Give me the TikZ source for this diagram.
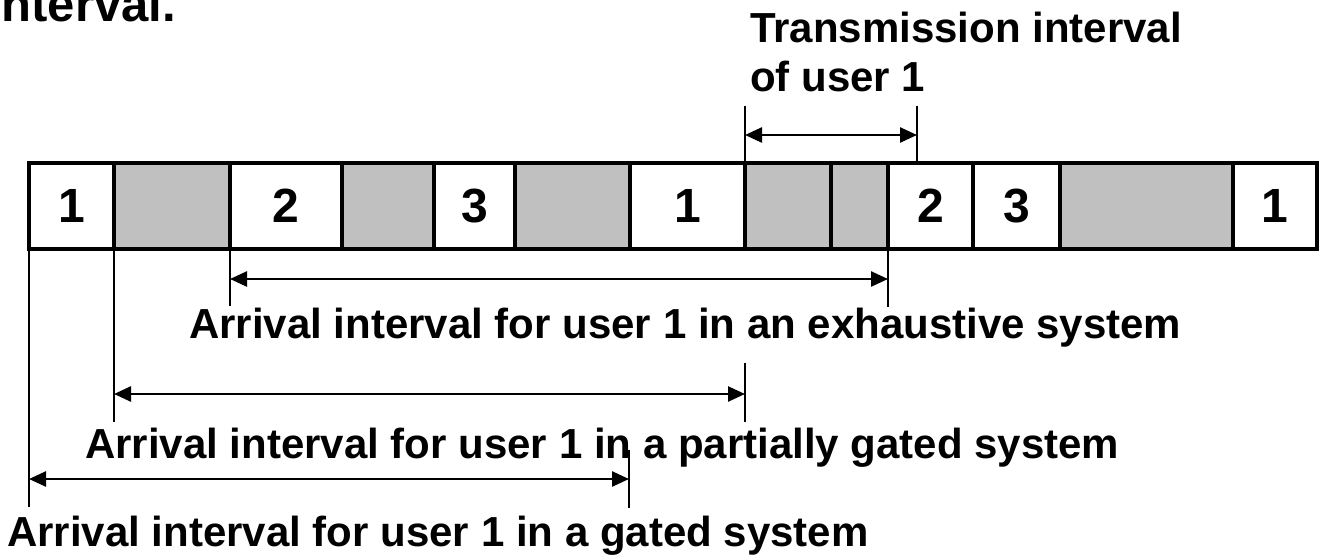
\documentclass[tikz,border=0pt]{standalone}
\usepackage{fontspec}
\setmainfont{Liberation Sans}
\usetikzlibrary{arrows.meta}
\definecolor{slotgray}{RGB}{192,192,192}
\begin{document}
\begin{tikzpicture}[x=1pt,y=-1pt,
  slot/.style={draw, line width=4pt, minimum height=86pt, inner sep=0pt,
    outer sep=0pt, font=\fontsize{48}{48}\selectfont\bfseries},
  idle/.style={slot, fill=slotgray},
  busy/.style={slot, fill=white},
  tick/.style={line width=2.5pt},
  span/.style={line width=2.5pt,
    {Triangle[length=17pt,width=15pt]}-{Triangle[length=17pt,width=15pt]}},
  lbl/.style={font=\fontsize{42}{49}\selectfont\bfseries, inner sep=0pt,
    anchor=base west}]
\useasboundingbox (0,0) rectangle (1320,556);

% heading, cut at the top edge
\node[font=\fontsize{49}{49}\selectfont\bfseries, inner sep=0pt,
  anchor=base east] (head) at (176,22) {nterval.};

% the cycle of slots: user slots and switch-over (grey) slots
\foreach \name/\a/\b/\kind/\txt in {
    c1/29/114/busy/1, g1/114/230/idle/{}, c2/230/342/busy/2,
    g2/342/434/idle/{}, c3/434/515/busy/3, g3/515/630/idle/{},
    c4/630/745/busy/1, g4/745/831/idle/{}, g5/831/888/idle/{},
    c5/888/973/busy/2, c6/973/1060/busy/3, g6/1060/1233/idle/{},
    c7/1233/1317/busy/1}
  \node[\kind, minimum width={(\b-\a)*1pt}] (\name) at ({(\a+\b)/2},206) {\txt};
\draw[line width=4.5pt] (c1.north west) rectangle (c7.south east);

% transmission interval of user 1
\coordinate (tL) at (745,106);
\coordinate (tR) at (917,106);
\coordinate (tRb) at (917,163);
\coordinate (taL) at (745,135);
\coordinate (taR) at (917,135);
\draw[tick] (tL) -- (g4.north west);
\draw[tick] (tR) -- (tRb);
\draw[span] (taL) -- (taR);
\node[lbl] (tr1) at (750,43) {Transmission interval};
\node[lbl] (tr2) at (750,92) {of user 1};

% exhaustive system
\coordinate (eL) at (230,306);
\coordinate (eR) at (888,307);
\coordinate (eaL) at (230,279);
\coordinate (eaR) at (888,279);
\draw[tick] (c2.south west) -- (eL);
\draw[tick] (c5.south west) -- (eR);
\draw[span] (eaL) -- (eaR);
\node[lbl] (ex) at (189,338) {Arrival interval for user 1 in an exhaustive system};

% partially gated system
\coordinate (pL) at (114,422);
\coordinate (pRt) at (745,363);
\coordinate (pRb) at (745,422);
\coordinate (paL) at (114,394);
\coordinate (paR) at (745,394);
\draw[tick] (g1.south west) -- (pL);
\draw[tick] (pRt) -- (pRb);
\draw[span] (paL) -- (paR);
\node[lbl] (pg) at (85,458) {Arrival interval for user 1 in a partially gated system};

% gated system
\coordinate (gL) at (29,507);
\coordinate (gRt) at (629,450);
\coordinate (gRb) at (629,508);
\coordinate (gaL) at (29,479);
\coordinate (gaR) at (629,479);
\draw[tick] (c1.south west) -- (gL);
\draw[tick] (gRt) -- (gRb);
\draw[span] (gaL) -- (gaR);
\node[lbl] (gt) at (7,546) {Arrival interval for user 1 in a gated system};
\end{tikzpicture}
\end{document}
